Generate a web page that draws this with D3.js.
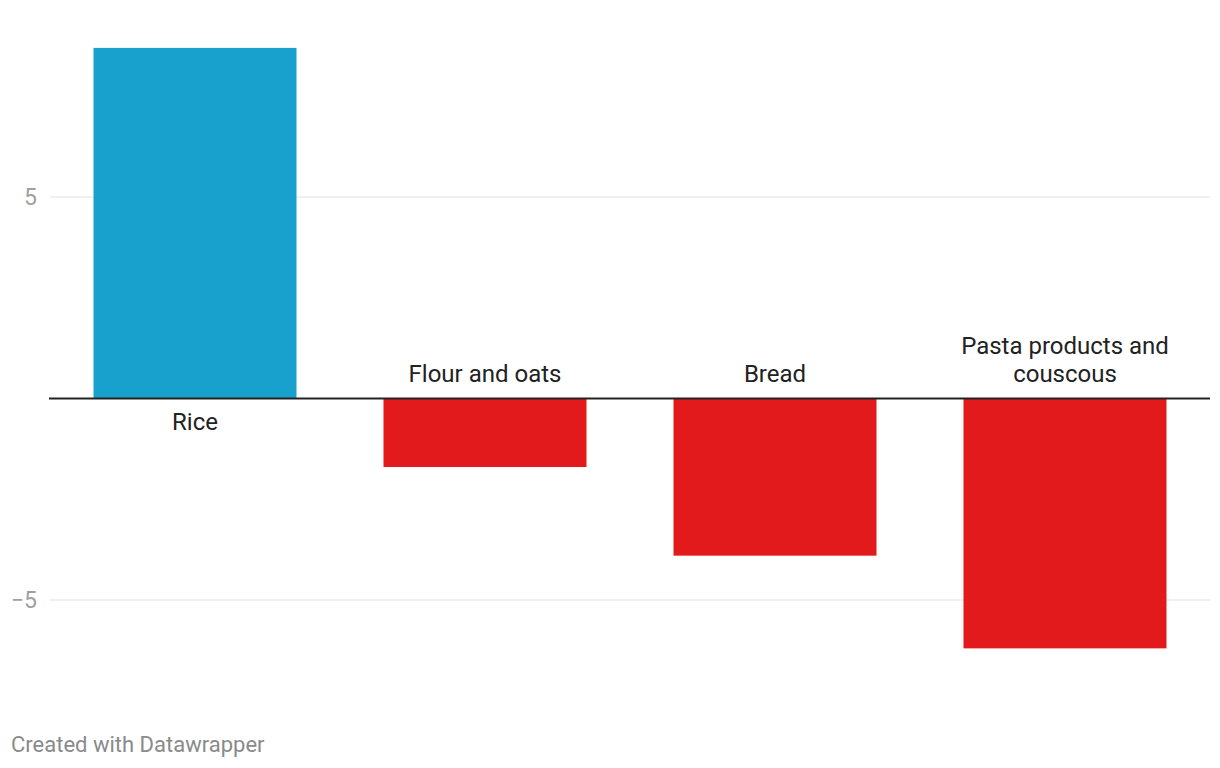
<!DOCTYPE html>
<html><head><meta charset="utf-8">
<script src="https://cdn.jsdelivr.net/npm/d3@7"></script>
<style>body{margin:0;background:#fff;font-family:Roboto,sans-serif;}</style>
</head><body><svg id="c" width="1220" height="768"></svg>
<script>
const categories = ["Rice", "Flour and oats", "Bread", "Pasta products and couscous"];
const values = [8.7, -1.7, -3.9, -6.2];
const tickValues = [-5, 5];
const tickLabels = ["−5", "5"];

const svg = d3.select("#c");
const x = d3.scaleBand().domain(categories).range([50, 1210]).paddingInner(0.3).paddingOuter(0.15);
const y = d3.scaleLinear().domain([-5, 5]).range([600, 197]);

const g = svg.append("g");
g.selectAll("line.grid").data(tickValues).join("line")
  .attr("x1", 50).attr("x2", 1210).attr("y1", d => y(d)).attr("y2", d => y(d))
  .attr("stroke", "#e1e1e1").attr("stroke-width", 1);
g.selectAll("text.tick").data(tickValues).join("text")
  .attr("x", 37).attr("y", d => y(d)).attr("dy", "0.35em").attr("text-anchor", "end")
  .attr("font-size", 23).attr("fill", "#a0a0a0").text((d, i) => tickLabels[i]);

g.selectAll("rect").data(values).join("rect")
  .attr("x", (d, i) => x(categories[i])).attr("width", x.bandwidth())
  .attr("y", d => y(Math.max(0, d))).attr("height", d => Math.abs(y(d) - y(0)))
  .attr("fill", d => d >= 0 ? "#18a1cd" : "#e31a1c");

g.append("line").attr("x1", 49).attr("x2", 1210).attr("y1", y(0)).attr("y2", y(0))
  .attr("stroke", "#222").attr("stroke-width", 2);

categories.forEach((c, i) => {
  const v = values[i];
  const cx = x(c) + x.bandwidth() / 2;
  const lines = c === "Pasta products and couscous" ? ["Pasta products and", "couscous"] : [c];
  const t = g.append("text").attr("text-anchor", "middle").attr("font-size", 24).attr("fill", "#222");
  lines.forEach((l, j) => {
    let yy;
    if (v >= 0) yy = y(0) + 31 + j * 28;
    else yy = y(0) - 17 - (lines.length - 1 - j) * 28;
    t.append("tspan").attr("x", cx).attr("y", yy).text(l);
  });
});

svg.append("text").attr("x", 11).attr("y", 752).attr("font-size", 22).attr("fill", "#8a8a8a")
  .text("Created with Datawrapper");
</script></body></html>
